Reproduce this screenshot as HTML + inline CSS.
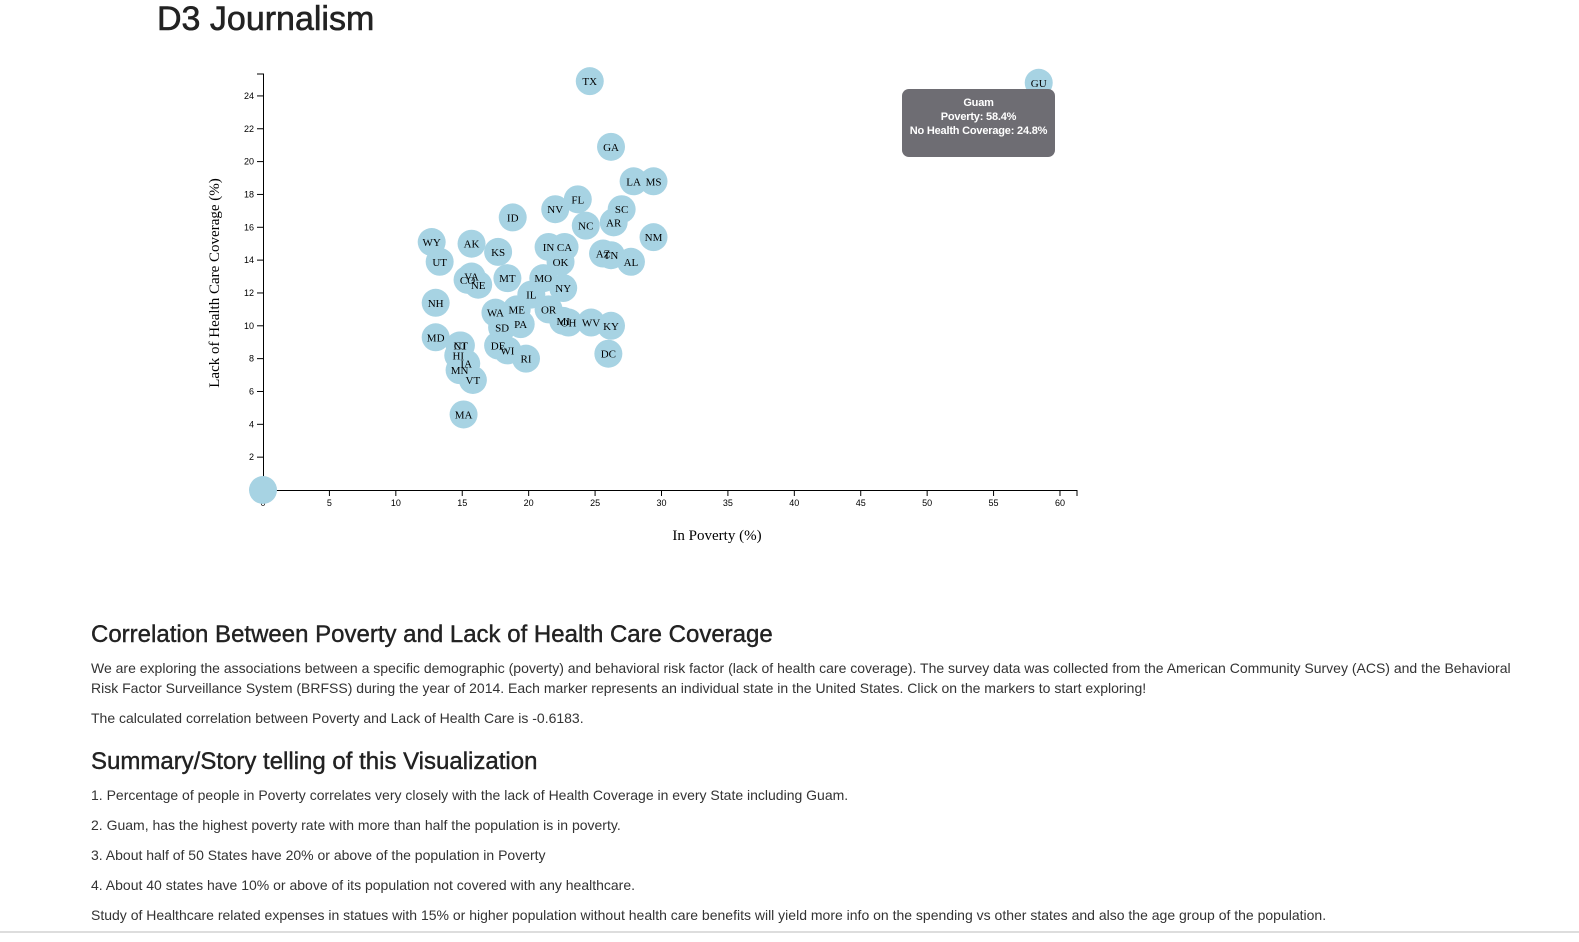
<!DOCTYPE html>
<html><head><meta charset="utf-8"><style>
body{margin:0;width:1579px;height:942px;background:#fff;font-family:"Liberation Sans",sans-serif;color:#333;position:relative;overflow:hidden}
h1{position:absolute;left:157px;top:0px;margin:0;font-size:34px;font-weight:normal;color:#222;-webkit-text-stroke:0.6px #222}
#chart{position:absolute;left:0;top:0}
.txt{position:absolute;left:91px;width:1440px}
h2{margin:0;font-size:24px;font-weight:normal;color:#222;-webkit-text-stroke:0.4px #222}
p{margin:0;font-size:14px;line-height:20px}
#tip{position:absolute;left:902px;top:89px;width:153px;height:68px;background:#6e6d73;border-radius:7px;color:#fff;font-size:11px;font-weight:bold;text-align:center;line-height:14px;padding-top:7px;box-sizing:border-box;white-space:nowrap;letter-spacing:-0.2px}
#bottom{position:absolute;left:0;top:931px;width:1579px;height:2px;background:#ddd}
</style></head><body>
<h1>D3 Journalism</h1>
<svg id="chart" width="1579" height="600"></svg>
<div id="tip">Guam<br>Poverty: 58.4%<br>No Health Coverage: 24.8%</div>
<div class="txt" style="top:621px">
<h2>Correlation Between Poverty and Lack of Health Care Coverage</h2>
<p style="margin-top:9px">We are exploring the associations between a specific demographic (poverty) and behavioral risk factor (lack of health care coverage). The survey data was collected from the American Community Survey (ACS) and the Behavioral Risk Factor Surveillance System (BRFSS) during the year of 2014. Each marker represents an individual state in the United States. Click on the markers to start exploring!</p>
<p style="margin-top:10px">The calculated correlation between Poverty and Lack of Health Care is -0.6183.</p>
<h2 style="margin-top:20px">Summary/Story telling of this Visualization</h2>
<p style="margin-top:9px">1. Percentage of people in Poverty correlates very closely with the lack of Health Coverage in every State including Guam.</p>
<p style="margin-top:10px">2. Guam, has the highest poverty rate with more than half the population is in poverty.</p>
<p style="margin-top:10px">3. About half of 50 States have 20% or above of the population in Poverty</p>
<p style="margin-top:10px">4. About 40 states have 10% or above of its population not covered with any healthcare.</p>
<p style="margin-top:10px">Study of Healthcare related expenses in statues with 15% or higher population without health care benefits will yield more info on the spending vs other states and also the age group of the population.</p>
</div>
<div id="bottom"></div>
<script>
const abbr=["","TX","GU","GA","LA","MS","FL","SC","NV","ID","AR","NC","NM","WY","AK","IN","CA","KS","AZ","TN","OK","AL","UT","VA","MT","MO","CO","NE","NY","IL","NH","OR","ME","WA","MI","OH","WV","KY","PA","SD","MD","NJ","CT","DE","WI","HI","DC","RI","IA","MN","VT","MA"];
const poverty=[0,24.6,58.4,26.2,27.9,29.4,23.7,27.0,22.0,18.8,26.4,24.3,29.4,12.7,15.7,21.5,22.7,17.7,25.6,26.2,22.4,27.7,13.3,15.7,18.4,21.1,15.4,16.2,22.6,20.2,13.0,21.5,19.1,17.5,22.6,23.0,24.7,26.2,19.4,18.0,13.0,14.8,14.9,17.7,18.4,14.7,26.0,19.8,15.3,14.8,15.8,15.1];
const healthcare=[0,24.9,24.8,20.9,18.8,18.8,17.7,17.1,17.1,16.6,16.3,16.1,15.4,15.1,15.0,14.8,14.8,14.5,14.4,14.3,13.9,13.9,13.9,13.0,12.9,12.9,12.8,12.5,12.3,11.9,11.4,11.0,11.0,10.8,10.3,10.2,10.2,10.0,10.1,9.9,9.3,8.8,8.8,8.8,8.5,8.2,8.3,8.0,7.7,7.3,6.7,4.6];
const xTicks=[0,5,10,15,20,25,30,35,40,45,50,55,60];
const yTicks=[0,2,4,6,8,10,12,14,16,18,20,22,24];
const NS="http://www.w3.org/2000/svg";
const svg=document.getElementById('chart');
const x=v=>263+v*13.283, y=v=>490-v*16.42;
function mk(t,a,p){const e=document.createElementNS(NS,t);for(const k in a)e.setAttribute(k,a[k]);(p||svg).appendChild(e);return e;}
const xa=mk('g',{});


mk('path',{d:'M263,496V490.5H1077V496',stroke:'#000',fill:'none'},xa);
xTicks.forEach(t=>{mk('line',{x1:x(t),x2:x(t),y1:490,y2:496,stroke:'#000'},xa);const tx=mk('text',{x:x(t),y:506,'font-size':9,'text-anchor':'middle','font-family':'Liberation Sans'},xa);tx.textContent=t;});
const ya=mk('g',{});


mk('path',{d:'M257,74H263.5V490H257',stroke:'#000',fill:'none'},ya);
yTicks.forEach(t=>{mk('line',{x1:257,x2:263,y1:y(t),y2:y(t),stroke:'#000'},ya);const tx=mk('text',{x:254,y:y(t)+3,'font-size':9,'text-anchor':'end','font-family':'Liberation Sans'},ya);tx.textContent=t;});
const xl=mk('text',{x:717,y:540,'font-size':15,'text-anchor':'middle','font-family':'Liberation Serif'});
xl.textContent='In Poverty (%)';


const yl=mk('text',{transform:'translate(219,283) rotate(-90)','font-size':15,'text-anchor':'middle','font-family':'Liberation Serif'});
yl.textContent='Lack of Health Care Coverage (%)';


for(let i=0;i<abbr.length;i++){
 const c=mk('circle',{cx:x(poverty[i]),cy:y(healthcare[i]),r:14,fill:'#a7d3e3'});
 
 
}
for(let i=0;i<abbr.length;i++){
 if(!abbr[i])continue;
 const t=mk('text',{x:x(poverty[i]),y:y(healthcare[i])+4,'font-size':11,'text-anchor':'middle','font-family':'Liberation Serif'});
 t.textContent=abbr[i];
 
 
}
</script>
</body></html>
